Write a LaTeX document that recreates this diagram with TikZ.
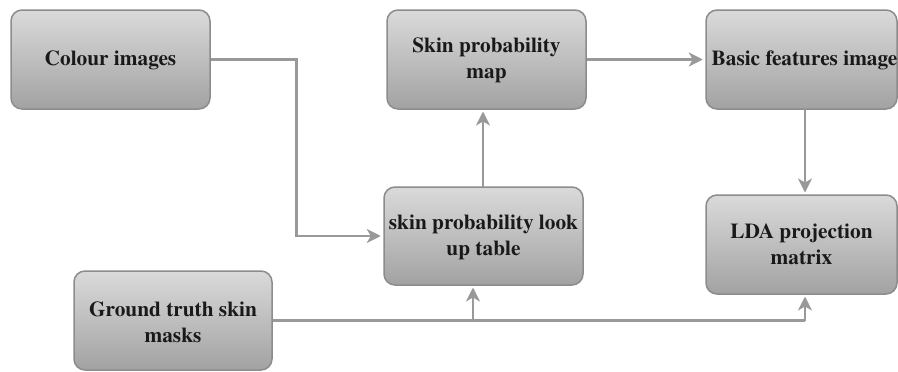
\documentclass[tikz,border=0pt]{standalone}
\usepackage{fontspec}
\setmainfont{TeX Gyre Termes}
\usetikzlibrary{arrows.meta}
\definecolor{linegray}{HTML}{999999}
\definecolor{edgegray}{HTML}{8C8C8C}
\definecolor{boxtop}{HTML}{DADADA}
\definecolor{boxbot}{HTML}{A2A2A2}
\tikzset{
  box/.style={draw=edgegray, line width=1.5pt, rounded corners=11pt,
    top color=boxtop, bottom color=boxbot, inner sep=0pt},
  lbl/.style={font=\fontsize{21.3}{26}\selectfont\bfseries, align=center, text=black!90, inner sep=0pt},
  conn/.style={draw=linegray, line width=2.2pt},
  arr/.style={conn, -{Stealth[length=14pt,width=14pt,inset=4pt]}, shorten >=2.5pt},
}
\begin{document}
\begin{tikzpicture}[x=1pt,y=-1pt]
\useasboundingbox (0,0) rectangle (898,372);
% boxes
\node[box, minimum width=199pt, minimum height=99pt] (col) at (110.5,59.5) {};
\node[box, minimum width=199pt, minimum height=99pt] (map) at (486.5,59.5) {};
\node[box, minimum width=191pt, minimum height=99pt] (basic) at (801.5,59.5) {};
\node[box, minimum width=199pt, minimum height=98pt] (lut) at (483.5,236) {};
\node[box, minimum width=191pt, minimum height=99pt] (lda) at (801.5,244.5) {};
\node[box, minimum width=198pt, minimum height=99pt] (gt) at (173,320.5) {};
% labels
\node[lbl] (tcol) at (110.5,60) {Colour images};
\node[lbl] (tmap) at (486.5,60) {Skin probability\\map};
\node[lbl] (tbasic) at (804.5,60) {Basic features image};
\node[lbl] (tlut) at (483.5,237) {skin probability look\\up table};
\node[lbl] (tlda) at (801.5,244) {LDA projection\\matrix};
\node[lbl] (tgt) at (173,322) {Ground truth skin\\masks};
% connector points
\coordinate (c1) at (296.5,59.5);
\coordinate (c2) at (296.5,236);
\coordinate (j1) at (473,320.5);
\coordinate (j2) at (805,320.5);
\coordinate (bb) at (805,109);
\coordinate (ldt) at (805,195);
\coordinate (lutb) at (473,285);
\coordinate (ldb) at (805,294);
\coordinate (lutt) at (483,187);
\coordinate (mapb) at (483,109);
% connectors
\draw[arr] (col.east) -- (c1) -- (c2) -- (lut.west);
\draw[arr] (lutt) -- (mapb);
\draw[arr] (map.east) -- (basic.west);
\draw[arr] (bb) -- (ldt);
\draw[conn] (gt.east) -- (j2);
\draw[arr] (j1) -- (lutb);
\draw[arr] (j2) -- (ldb);
\end{tikzpicture}
\end{document}
